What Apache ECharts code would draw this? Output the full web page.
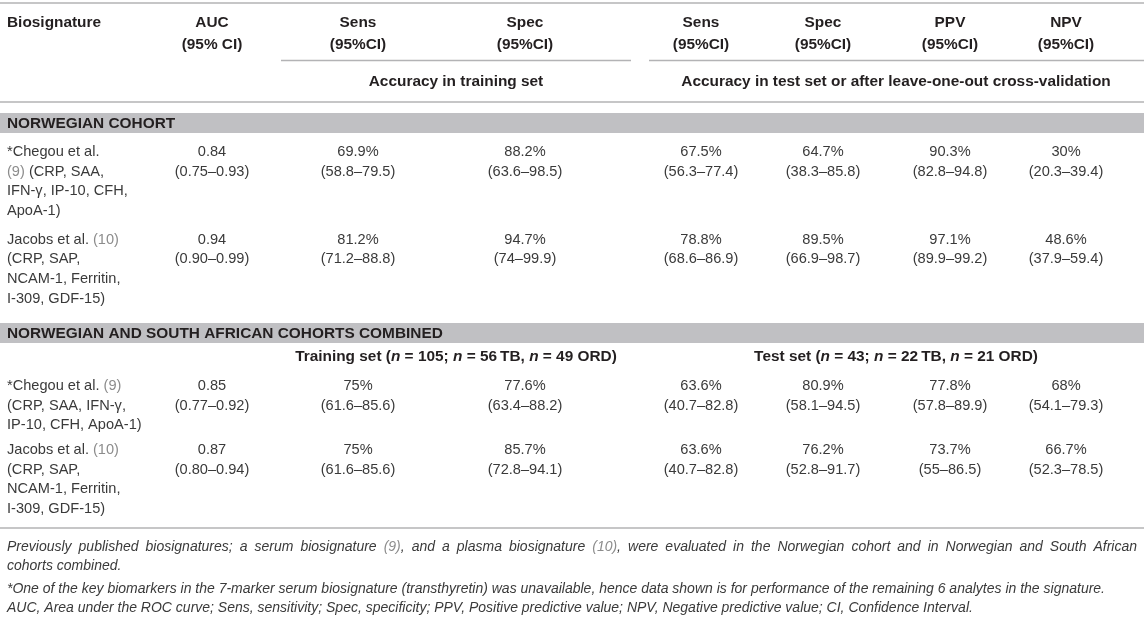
<!DOCTYPE html>
<html>
<head>
<meta charset="utf-8">
<script src="https://cdn.jsdelivr.net/npm/echarts@6/dist/echarts.min.js"></script>
<style>
  html, body { margin: 0; padding: 0; background: #fff; }
  #main { width: 1144px; height: 626px; }
</style>
</head>
<body>
<div id="main"></div>
<script>
// table content
var headTitles = ['Biosignature', 'AUC', 'Sens', 'Spec', 'Sens', 'Spec', 'PPV', 'NPV'];
var headSubs = ['', '(95% CI)', '(95%CI)', '(95%CI)', '(95%CI)', '(95%CI)', '(95%CI)', '(95%CI)'];
var spanTitles = ['Accuracy in training set', 'Accuracy in test set or after leave-one-out cross-validation'];
var groupNames = ['NORWEGIAN COHORT', 'NORWEGIAN AND SOUTH AFRICAN COHORTS COMBINED'];
var combinedSets = ['{b|Training set (}{bi|n}{b| = 105; }{bi|n}{b| = 56\u2009TB, }{bi|n}{b| = 49 ORD)}',
                    '{b|Test set (}{bi|n}{b| = 43; }{bi|n}{b| = 22\u2009TB, }{bi|n}{b| = 21 ORD)}'];

// biosignature names, one entry per printed line
var norChegouName = ['*Chegou et al.', '{ref|(9)} (CRP, SAA,', 'IFN-\u03b3, IP-10, CFH,', 'ApoA-1)'];
var norJacobsName = ['Jacobs et al. {ref|(10)}', '(CRP, SAP,', 'NCAM-1, Ferritin,', 'I-309, GDF-15)'];
var comChegouName = ['*Chegou et al. {ref|(9)}', '(CRP, SAA, IFN-\u03b3,', 'IP-10, CFH, ApoA-1)'];
var comJacobsName = ['Jacobs et al. {ref|(10)}', '(CRP, SAP,', 'NCAM-1, Ferritin,', 'I-309, GDF-15)'];

// AUC, Sens, Spec (training), Sens, Spec, PPV, NPV (test)
var norChegouVal = ['0.84', '69.9%', '88.2%', '67.5%', '64.7%', '90.3%', '30%'];
var norChegouCI  = ['(0.75\u20130.93)', '(58.8\u201379.5)', '(63.6\u201398.5)', '(56.3\u201377.4)', '(38.3\u201385.8)', '(82.8\u201394.8)', '(20.3\u201339.4)'];
var norJacobsVal = ['0.94', '81.2%', '94.7%', '78.8%', '89.5%', '97.1%', '48.6%'];
var norJacobsCI  = ['(0.90\u20130.99)', '(71.2\u201388.8)', '(74\u201399.9)', '(68.6\u201386.9)', '(66.9\u201398.7)', '(89.9\u201399.2)', '(37.9\u201359.4)'];
var comChegouVal = ['0.85', '75%', '77.6%', '63.6%', '80.9%', '77.8%', '68%'];
var comChegouCI  = ['(0.77\u20130.92)', '(61.6\u201385.6)', '(63.4\u201388.2)', '(40.7\u201382.8)', '(58.1\u201394.5)', '(57.8\u201389.9)', '(54.1\u201379.3)'];
var comJacobsVal = ['0.87', '75%', '85.7%', '63.6%', '76.2%', '73.7%', '66.7%'];
var comJacobsCI  = ['(0.80\u20130.94)', '(61.6\u201385.6)', '(72.8\u201394.1)', '(40.7\u201382.8)', '(52.8\u201391.7)', '(55\u201386.5)', '(52.3\u201378.5)'];

var footNote1 = 'Previously published biosignatures; a serum biosignature (9), and a plasma biosignature (10), were evaluated in the Norwegian cohort and in Norwegian and South African';
var footNote1b = 'cohorts combined.';
var footNote2 = '*One of the key biomarkers in the 7-marker serum biosignature (transthyretin) was unavailable, hence data shown is for performance of the remaining 6 analytes in the signature.';
var footNote3 = 'AUC, Area under the ROC curve; Sens, sensitivity; Spec, specificity; PPV, Positive predictive value; NPV, Negative predictive value; CI, Confidence Interval.';

(function () {
  var dom = document.getElementById('main');
  var myChart = echarts.init(dom, null, { renderer: 'canvas' });

  var FAMILY = '"Liberation Sans", Arial, Helvetica, sans-serif';
  var SIZE = 14.6;   // body
  var BSIZE = 15.4;  // bold headings
  var FSIZE = 14;    // footnotes
  var INK = '#231f20';
  var BODY = '#3a3a3a';
  var REF = '#8c8c8c';
  var LINE = '#b3b3b5';
  var BAND = '#c0c0c3';
  var W = 1144;
  var colX = [7, 212, 358, 525, 701, 823, 950, 1066];
  var LH = 19.7;

  var els = [];
  var rich = {
    ref: { fill: REF, fontSize: SIZE, fontFamily: FAMILY },
    b: { fill: INK, fontSize: BSIZE, fontFamily: FAMILY, fontWeight: 'bold' },
    bi: { fill: INK, fontSize: BSIZE, fontFamily: FAMILY, fontWeight: 'bold', fontStyle: 'italic' }
  };

  function txt(x, y, s, align, bold) {
    els.push({
      type: 'text', x: x, y: y, silent: true,
      style: {
        text: s, fill: bold ? INK : BODY, fontSize: bold ? BSIZE : SIZE, fontFamily: FAMILY,
        fontWeight: bold ? 'bold' : 'normal',
        align: align || 'left', verticalAlign: 'middle',
        textAlign: align || 'left', textVerticalAlign: 'middle',
        rich: rich
      }
    });
  }
  function hline(x1, x2, y, w) {
    els.push({ type: 'line', silent: true, shape: { x1: x1, y1: y, x2: x2, y2: y },
      style: { stroke: LINE, lineWidth: w || 1.3 } });
  }
  function band(y, h, label) {
    els.push({ type: 'rect', silent: true, shape: { x: 0, y: y, width: W, height: h },
      style: { fill: BAND } });
    txt(colX[0], y + h / 2 + 0.5, label, 'left', true);
  }
  function row(y, names, vals, cis) {
    names.forEach(function (n, i) { txt(colX[0], y + i * LH, n); });
    vals.forEach(function (v, i) {
      txt(colX[i + 1], y, v, 'center');
      txt(colX[i + 1], y + LH, cis[i], 'center');
    });
  }

  // header
  hline(0, W, 3);
  headTitles.forEach(function (t, i) {
    txt(colX[i], 22.5, t, i === 0 ? 'left' : 'center', true);
    if (headSubs[i]) txt(colX[i], 45, headSubs[i], 'center', true);
  });
  hline(281, 631, 60.5);
  hline(649, W, 60.5);
  txt(456, 82, spanTitles[0], 'center', true);
  txt(896, 82, spanTitles[1], 'center', true);
  hline(0, W, 102);

  // Norwegian cohort
  band(113, 20, groupNames[0]);
  row(152, norChegouName, norChegouVal, norChegouCI);
  row(239.5, norJacobsName, norJacobsVal, norJacobsCI);

  // combined cohorts
  band(323, 20, groupNames[1]);
  txt(456, 357, combinedSets[0], 'center');
  txt(896, 357, combinedSets[1], 'center');
  row(386, comChegouName, comChegouVal, comChegouCI);
  row(450, comJacobsName, comJacobsVal, comJacobsCI);
  hline(0, W, 528);

  // footnotes (first line justified)
  var ctx = document.createElement('canvas').getContext('2d');
  ctx.font = 'italic ' + FSIZE + 'px ' + FAMILY;
  function note(x, y, s) {
    els.push({ type: 'text', x: x, y: y, silent: true,
      style: { text: s, fill: BODY, fontSize: FSIZE, fontFamily: FAMILY, fontStyle: 'italic',
        align: 'left', verticalAlign: 'middle', textAlign: 'left', textVerticalAlign: 'middle',
        rich: { ref: { fill: REF, fontSize: FSIZE, fontFamily: FAMILY, fontStyle: 'italic' } } } });
  }
  var words = footNote1.split(' ');
  var total = 0;
  words.forEach(function (w) { total += ctx.measureText(w).width; });
  var gap = (1137 - colX[0] - total) / (words.length - 1);
  var cx = colX[0];
  words.forEach(function (w) {
    var shown = (w === '(9),' || w === '(10),') ? '{ref|' + w.slice(0, -1) + '},' : w;
    note(cx, 547, shown);
    cx += ctx.measureText(w).width + gap;
  });
  note(colX[0], 566, footNote1b);
  note(colX[0], 589, footNote2);
  note(colX[0], 608, footNote3);

  var option = { animation: false, graphic: { elements: els } };
  myChart.setOption(option, true);
})();
</script>
</body>
</html>
